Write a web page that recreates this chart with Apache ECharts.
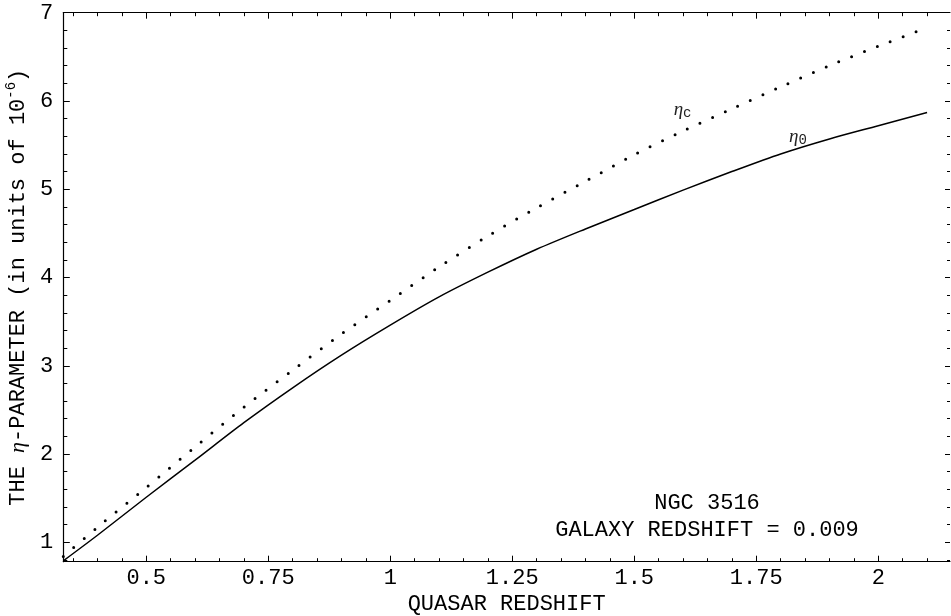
<!DOCTYPE html>
<html><head><meta charset="utf-8">
<script src="https://cdn.jsdelivr.net/npm/echarts@6/dist/echarts.min.js"></script>
<style>html,body{margin:0;padding:0;background:#fff}#c{width:951px;height:616px}</style>
</head><body><div id="c"></div>
<script>
// ---- data ----
const quasarZ = [0.33, 0.40, 0.50, 0.60, 0.70, 0.80, 0.90, 1.00, 1.10, 1.20, 1.30, 1.40, 1.50, 1.60, 1.70, 1.80, 1.90, 2.00, 2.10];
const etaC    = [0.84, 1.17, 1.62, 2.08, 2.53, 2.95, 3.36, 3.74, 4.12, 4.47, 4.79, 5.09, 5.39, 5.66, 5.91, 6.16, 6.40, 6.62, 6.83];
const eta0    = [0.79, 1.08, 1.51, 1.93, 2.355, 2.75, 3.12, 3.46, 3.78, 4.06, 4.32, 4.55, 4.77, 4.99, 5.20, 5.40, 5.57, 5.72, 5.87];

const xMajorTicks = [0.5, 0.75, 1, 1.25, 1.5, 1.75, 2];
const xMinorTicks = [0.35, 0.4, 0.45, 0.55, 0.6, 0.65, 0.7, 0.8, 0.85, 0.9, 0.95, 1.05, 1.1, 1.15, 1.2,
                     1.3, 1.35, 1.4, 1.45, 1.55, 1.6, 1.65, 1.7, 1.8, 1.85, 1.9, 1.95, 2.05, 2.1];
const yMajorTicks = [1, 2, 3, 4, 5, 6, 7];
const yMinorTicks = [0.8, 1.2, 1.4, 1.6, 1.8, 2.2, 2.4, 2.6, 2.8, 3.2, 3.4, 3.6, 3.8, 4.2, 4.4, 4.6, 4.8,
                     5.2, 5.4, 5.6, 5.8, 6.2, 6.4, 6.6, 6.8];
const xRange = [0.33, 2.147];
const yRange = [0.78, 7];

const etaCLabelAt = [1.599, 5.898];
const eta0LabelAt = [1.8355, 5.592];

const xTitle = 'QUASAR REDSHIFT';
const noteLines = ['NGC 3516', 'GALAXY REDSHIFT = 0.009'];

// ---- chart ----
const MONO = '"Liberation Mono", "Courier New", monospace';
const SERIF = '"Liberation Serif", "DejaVu Serif", serif';
const black = '#000';

function xAx(pos, ticks, len, labels, line) {
  return {
    type: 'value', position: pos, min: xRange[0], max: xRange[1],
    axisLine: { show: line, onZero: false, lineStyle: { color: black, width: 1.2 } },
    axisTick: { show: true, inside: true, length: len, customValues: ticks, lineStyle: { color: black, width: 1 } },
    axisLabel: labels ? { show: true, customValues: ticks, margin: 5, color: black, fontFamily: MONO, fontSize: 22 } : { show: false },
    splitLine: { show: false }
  };
}
function yAx(pos, ticks, len, labels, line) {
  return {
    type: 'value', position: pos, min: yRange[0], max: yRange[1],
    axisLine: { show: line, onZero: false, lineStyle: { color: black, width: 1.2 } },
    axisTick: { show: true, inside: true, length: len, customValues: ticks, lineStyle: { color: black, width: 1 } },
    axisLabel: labels ? { show: true, customValues: ticks, margin: 10, color: black, fontFamily: MONO, fontSize: 22 } : { show: false },
    splitLine: { show: false }
  };
}

const xAxes = [
  Object.assign(xAx('bottom', xMajorTicks, 6, true, true), {
    name: xTitle, nameLocation: 'middle', nameGap: 31,
    nameTextStyle: { color: black, fontFamily: MONO, fontSize: 22 }
  }),
  xAx('bottom', xMinorTicks, 3.5, false, false),
  xAx('top', xMajorTicks, 6, false, true),
  xAx('top', xMinorTicks, 3.5, false, false)
];
const yAxes = [
  Object.assign(yAx('left', yMajorTicks, 6.5, true, true), {
    name: '{a|THE }{e|η}{a|-PARAMETER (in units of 10}{s|-6}{a|)}',
    nameLocation: 'middle', nameGap: 30, nameRotate: 90,
    nameTextStyle: {
      color: black,
      rich: {
        a: { fontFamily: MONO, fontSize: 22, color: black },
        e: { fontFamily: SERIF, fontStyle: 'italic', fontSize: 22, color: black },
        s: { fontFamily: MONO, fontSize: 14, color: black, padding: [0, 0, 14, 0] }
      }
    }
  }),
  yAx('left', yMinorTicks, 4, false, false),
  yAx('right', yMajorTicks, 5, false, false),
  yAx('right', yMinorTicks, 3, false, false)
];

function labelMark(at, sub) {
  return {
    symbol: 'circle', symbolSize: 1, silent: true,
    itemStyle: { color: 'rgba(0,0,0,0)' },
    data: [{ coord: at }],
    label: {
      show: true, position: 'inside', formatter: '{e|η}{s|' + sub + '}',
      rich: {
        e: { fontFamily: SERIF, fontStyle: 'italic', fontSize: 19, color: '#222' },
        s: { fontFamily: MONO, fontSize: 14, color: '#222', padding: [6, 0, 0, 0] }
      }
    }
  };
}

const chart = echarts.init(document.getElementById('c'), null, { renderer: 'canvas' });
chart.setOption({
  animation: false,
  backgroundColor: '#fff',
  grid: { left: 63.3, top: 12.7, right: 1, bottom: 54.3, containLabel: false, outerBoundsMode: 'none' },
  xAxis: xAxes,
  yAxis: yAxes,
  series: [
    {
      name: 'eta_c', type: 'line', xAxisIndex: 0, yAxisIndex: 0,
      data: quasarZ.map((x, i) => [x, etaC[i]]),
      showSymbol: false, smooth: 0.3,
      lineStyle: { color: black, width: 3, type: [0, 13.8], cap: 'round' },
      markPoint: labelMark(etaCLabelAt, 'c')
    },
    {
      name: 'eta_0', type: 'line', xAxisIndex: 0, yAxisIndex: 0,
      data: quasarZ.map((x, i) => [x, eta0[i]]),
      showSymbol: false, smooth: 0.3,
      lineStyle: { color: black, width: 1.5 },
      markPoint: labelMark(eta0LabelAt, '0')
    }
  ],
  graphic: [
    { type: 'text', x: 707, y: 503, style: { text: noteLines[0], font: '22px ' + MONO, fill: black, textAlign: 'center', textVerticalAlign: 'middle' } },
    { type: 'text', x: 707, y: 530, style: { text: noteLines[1], font: '22px ' + MONO, fill: black, textAlign: 'center', textVerticalAlign: 'middle' } }
  ]
});
</script>
</body></html>
